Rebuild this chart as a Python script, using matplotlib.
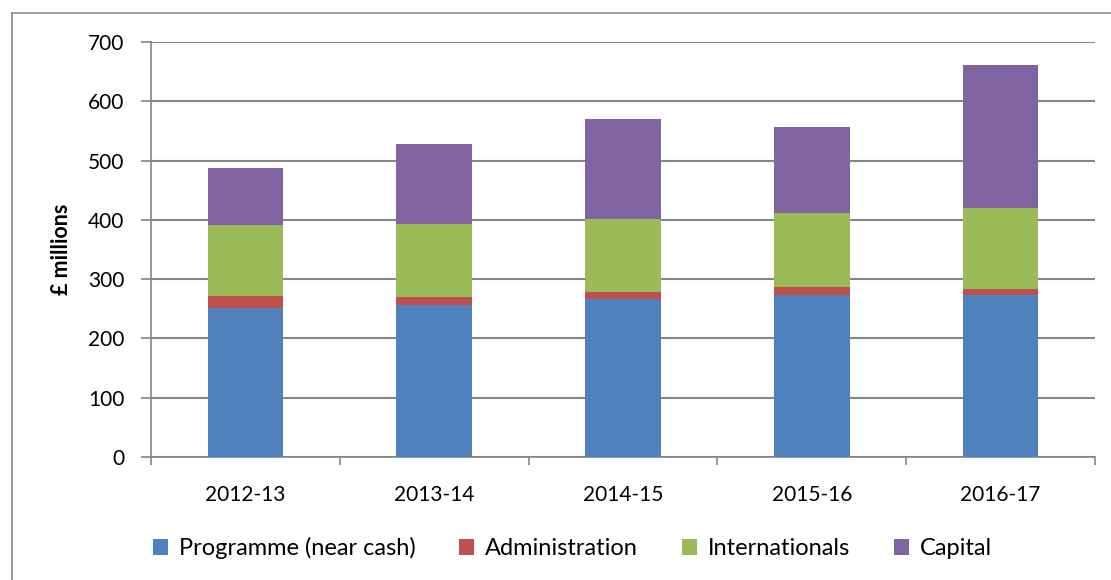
import matplotlib
matplotlib.use("Agg")
import matplotlib.pyplot as plt
from matplotlib.lines import Line2D
from matplotlib.patches import Patch
import numpy as np

categories = ["2012-13", "2013-14", "2014-15", "2015-16", "2016-17"]
programme = [252, 257, 266, 274, 273]
administration = [20, 13, 13, 12, 11]
internationals = [119, 123, 122, 126, 136]
capital = [96, 135, 169, 145, 241]

series_names = ["Programme (near cash)", "Administration", "Internationals", "Capital"]
colors = ["#4F81BD", "#C0504D", "#9BBB59", "#8064A2"]

plt.rcParams['font.family'] = ['Lato', 'DejaVu Sans']

fig = plt.figure(figsize=(11.11, 5.8), dpi=100)
ax = fig.add_axes([151/1111, 1 - 457/580, (1095 - 151)/1111, (457 - 42)/580])

x = np.arange(len(categories))
bottom = np.zeros(len(categories))
for vals, c, name in zip([programme, administration, internationals, capital], colors, series_names):
    ax.bar(x, vals, width=0.4, bottom=bottom, color=c, label=name, zorder=3)
    bottom += np.array(vals)

ax.set_xlim(-0.5, len(categories) - 0.5)
ax.set_ylim(0, 700)
ax.set_yticks(range(0, 701, 100))
ax.grid(axis='y', color='#868686', linewidth=1.5, zorder=0)
ax.set_axisbelow(True)

for s in ['top', 'right']:
    ax.spines[s].set_visible(False)
for s in ['left', 'bottom']:
    ax.spines[s].set_color('#868686')
    ax.spines[s].set_linewidth(1.2)

ax.set_xticks(x)
ax.set_xticklabels(categories)
ax.set_xticks(np.arange(-0.5, len(categories)), minor=True)
ax.tick_params(axis='x', which='major', length=0, pad=20, labelsize=15)
ax.tick_params(axis='x', which='minor', length=6, color='#868686', width=1.2)
ax.tick_params(axis='y', length=7, color='#868686', width=1.2, labelsize=15, pad=12)

ax.set_ylabel("£ millions", fontweight='bold', fontsize=15.5, labelpad=12)

handles = [Patch(facecolor=c, edgecolor='none') for c in colors]
fig.legend(handles, series_names, loc='center', bbox_to_anchor=(0.515, 0.055), ncol=4,
           frameon=False, fontsize=17, handlelength=0.65, handleheight=0.65,
           handletextpad=0.45, columnspacing=1.85)

# outer chart border
fig.add_artist(Line2D([12/1111, 12/1111], [0, 1 - 12.5/580], color='#8c8c8c', linewidth=1.2))
fig.add_artist(Line2D([12/1111, 1], [1 - 12.5/580, 1 - 12.5/580], color='#8c8c8c', linewidth=1.2))

fig.savefig("out.png", dpi=100)
